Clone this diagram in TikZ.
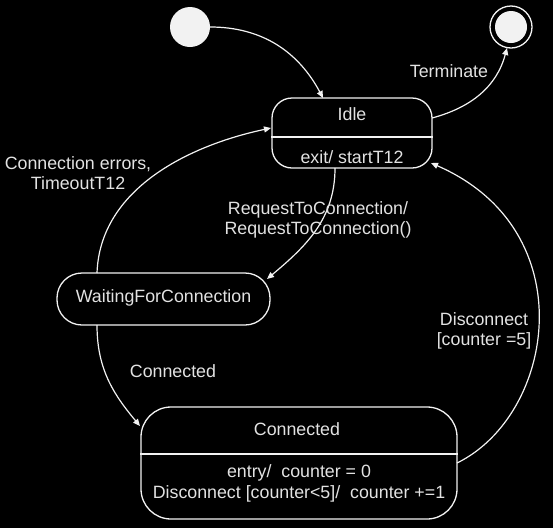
\documentclass[tikz,border=0pt]{standalone}
\usepackage{fontspec}
\setmainfont{Liberation Sans}
\usetikzlibrary{arrows.meta}
\definecolor{ink}{HTML}{F2F2F2}
\definecolor{txt}{HTML}{E2E2E2}
\begin{document}
\begin{tikzpicture}[x=1pt,y=-1pt,
  every node/.style={font=\fontsize{17.8}{20}\selectfont, text=txt, inner sep=0pt},
  statebox/.style={draw=ink, line width=1.3pt, fill=black},
  conn/.style={draw=ink, line width=1.2pt, -{Triangle[length=7pt,width=6pt]}},
  lbl/.style={align=center}]
\fill[black] (0,0) rectangle (553,528);
\useasboundingbox (0,0) rectangle (553,528);

% initial and final states
\node[circle, fill=ink, minimum size=40pt] (init) at (190,27) {};
\node[circle, draw=ink, line width=1.3pt, minimum size=42pt] (final) at (511,27) {};
\node[circle, fill=ink, minimum size=32pt] (finalin) at (511,27) {};

% Idle
\node[statebox, rounded corners=20pt, minimum width=160pt, minimum height=70pt] (idle) at (352,133) {};
\draw[ink, line width=1.3pt] (idle.west |- 0,137) coordinate (idlel) -- (idle.east |- 0,137) coordinate (idler);
\node (idlet) at (352,114) {Idle};
\node (idlee) at (352,157) {exit/ startT12};

% WaitingForConnection
\node[statebox, rounded corners=25pt, minimum width=213pt, minimum height=52pt] (wfc) at (163.5,299) {};
\node (wfct) at (163.5,298) {WaitingForConnection};

% Connected
\node[statebox, rounded corners=30pt, minimum width=316pt, minimum height=112pt] (con) at (299,463) {};
\draw[ink, line width=1.3pt] (con.west |- 0,454) -- (con.east |- 0,454);
\node (cont) at (297,429) {Connected};
\node (cone) at (299,473) {entry/\ \ counter = 0};
\node (cond) at (299,494) {Disconnect [counter<5]/\ \ counter +=1};

% coordinates on borders
\coordinate (idletop) at (323,98);
\coordinate (idlebot) at (335,168);
\coordinate (idleR1) at (432,118);
\coordinate (idleR2) at (431,163);
\coordinate (idleL) at (271,128);
\coordinate (wfcR) at (267,279);
\coordinate (wfcT) at (97,273);
\coordinate (wfcB) at (97,325);
\coordinate (conL) at (140,426);
\coordinate (conR) at (457,463);
\coordinate (finB) at (507,48);

% transitions
\draw[conn] (init.east) to[out=0,in=118] (idletop);
\draw[conn] (idleR1) to[out=15,in=-105] (finB);
\node[lbl] (tterm) at (449,71) {Terminate};
\draw[conn] (wfcT) to[out=88,in=192,looseness=0.95] (idleL);
\node[lbl] (terr) at (78,173) {Connection errors,\\TimeoutT12};
\draw[conn] (idlebot) to[out=-90,in=40] (wfcR);
\node[lbl] (treq) at (318,220) {RequestToConnection/\\RequestToConnection()};
\draw[conn] (wfcB) to[out=-90,in=130] (conL);
\node[lbl] (tcon) at (173,371) {Connected};
\draw[conn] (conR) .. controls (555,415) and (585,230) .. (idleR2);
\node[lbl] (tdis) at (484,331) {Disconnect\\{}[counter =5]};
\end{tikzpicture}
\end{document}
